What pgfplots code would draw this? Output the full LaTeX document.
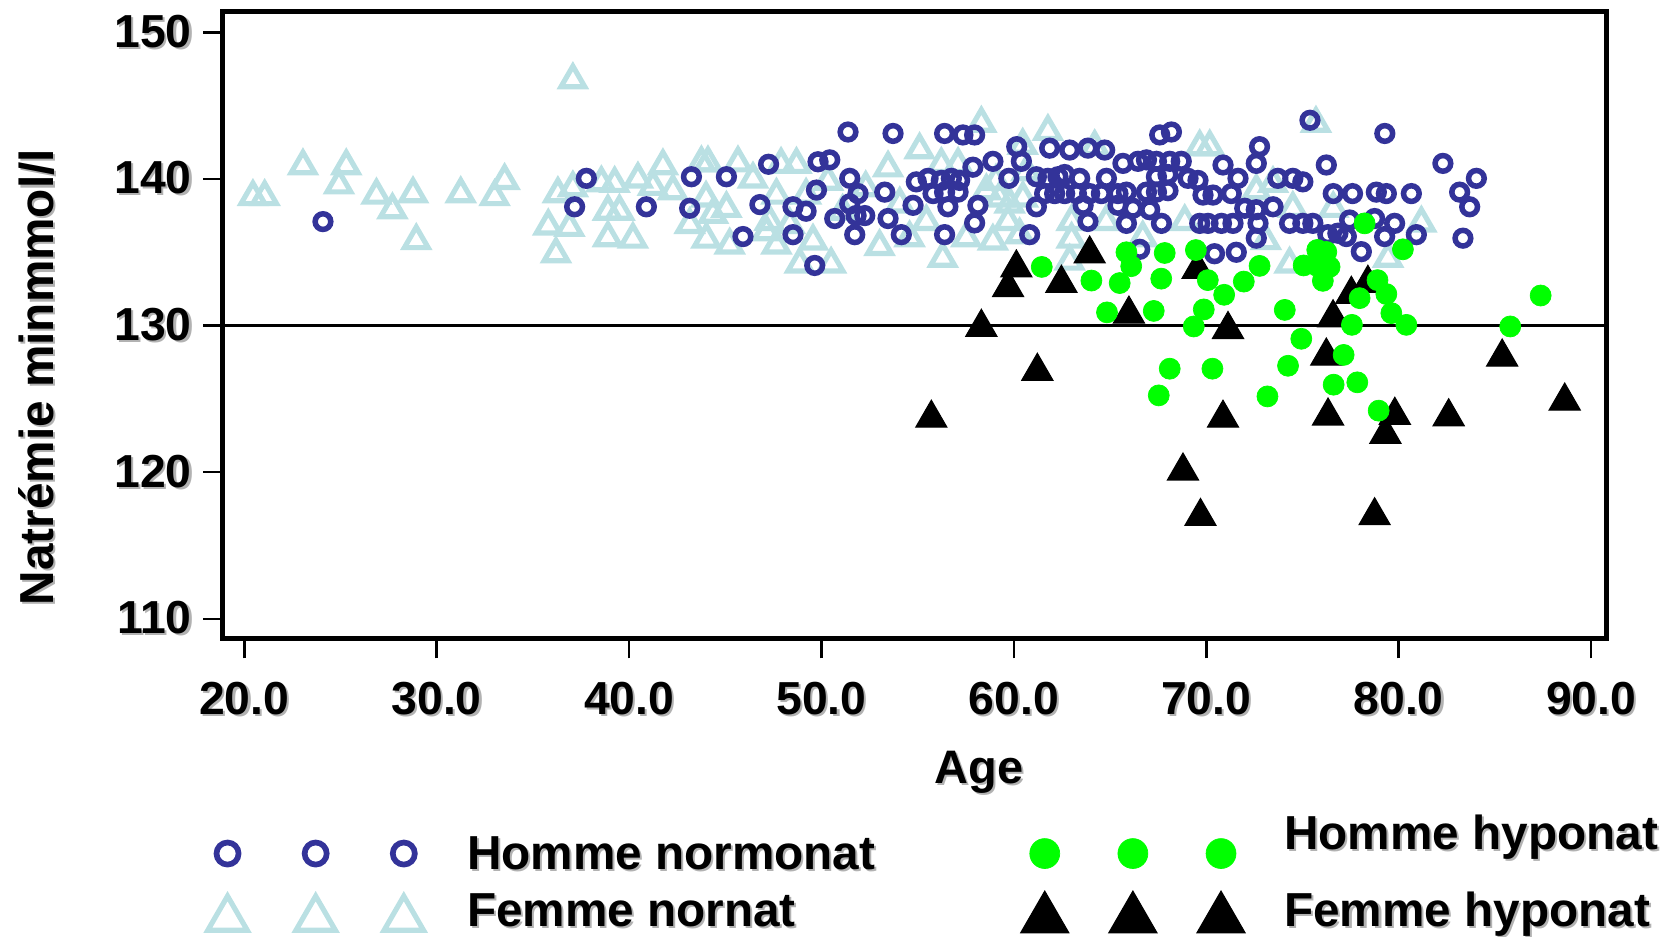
\documentclass[border=0pt]{standalone}
\usepackage{pgfplots}
\pgfplotsset{compat=1.18}
\usepackage{fontspec}
\setmainfont{Liberation Sans}
\definecolor{navyc}{RGB}{51,51,153}
\definecolor{lightc}{RGB}{186,224,227}
\definecolor{greenc}{RGB}{0,255,0}
\newcommand{\tfont}{\fontsize{13}{15}\selectfont\bfseries}
\newcommand{\shd}[1]{\makebox[0pt][l]{\hspace{0.6pt}\raisebox{-0.6pt}{\textcolor{black!30}{#1}}}#1}
\newcommand{\shdr}[1]{\makebox[0pt][l]{\hspace{-0.6pt}\raisebox{-0.6pt}{\textcolor{black!30}{#1}}}#1}
\begin{document}
\begin{tikzpicture}
\useasboundingbox (0,0) rectangle (470.4pt,263.1pt);
\begin{axis}[
  at={(62.55pt,83.7pt)}, anchor=south west,
  scale only axis, width=388.7pt, height=176.1pt,
  xmin=18.88, xmax=90.82, ymin=108.64, ymax=151.40,
  axis line style={line width=1.35pt},
  xtick={20,30,...,90}, ytick={110,120,...,150},
  xtick pos=bottom, ytick pos=left,
  tick align=outside, major tick length=5.5pt,
  tick style={line width=0.7pt, black},
  minor tick num=0,
  /pgf/number format/assume math mode=true,
  xticklabel={\shd{\pgfmathprintnumber{\tick}}},
  yticklabel={\shd{\pgfmathprintnumber{\tick}}},
  x tick label style={/pgf/number format/.cd, fixed, fixed zerofill, precision=1, /tikz/.cd, font=\tfont, inner sep=0pt, anchor=north, yshift=-6.5pt},
  y tick label style={font=\tfont, inner sep=0pt, anchor=east, xshift=-3pt},
  xlabel={\shd{Age}},
  xlabel style={at={(axis description cs:0.5465,-0.23)}, anchor=base, font=\fontsize{13.2}{15}\selectfont\bfseries, inner sep=0pt},
  ylabel={\shdr{Natrémie minmmol/l}},
  ylabel style={at={(axis description cs:-0.1223,0.4173)}, anchor=base, font=\fontsize{13.4}{15}\selectfont\bfseries, inner sep=0pt},
  legend columns=2, legend cell align=left,
  legend style={at={(axis description cs:-0.02225,-0.297)}, anchor=north west, draw=none, fill=none, inner sep=0pt, outer sep=0pt, row sep=0.4pt, column sep=0pt, font=\fontsize{13.4}{15}\selectfont\bfseries, nodes={inner sep=0pt, outer sep=0pt},
    /tikz/every odd column/.append style={column sep=7.75pt},
    /tikz/every even column/.append style={column sep=37.6pt}},
  legend image code/.code={\path[draw=none, fill=none] (-10pt,-8pt) rectangle (59.5pt,8pt); \draw[#1] plot coordinates {(0pt,0pt) (24.75pt,0pt) (49.5pt,0pt)};},
]
% reference line at 130
\addplot[black, line width=0.85pt, forget plot] coordinates {(18.88,130) (90.82,130)};

% Femme nornat
\addplot[only marks, mark=triangle, color=lightc, line width=1.45pt, mark size=3.85pt, mark options={line width=1.45pt, yshift=-1.3pt}, forget plot] coordinates {
(20.45,139.1) (21.06,139.1) (23.05,141.2) (25.3,141.2) (24.92,139.9) (26.87,139.2) (27.7,138.2) (28.77,139.3) (28.94,136.1) (31.25,139.3) (33.01,139.1) (33.53,140.2) (36.3,139.3) (35.8,137.1) (36.2,135.2)
(37.08,147.07) (37.08,139.7) (36.9,137.0) (38.56,140.04) (39.25,140.0) (38.9,138.1) (38.9,136.3) (40.2,136.2) (39.5,138.1) (40.46,140.3) (41.76,141.2) (41.24,139.8) (42.28,139.5) (43.76,141.4) (44.1,141.4) (44.0,139.0) (44.36,137.9) (45.06,138.3) (45.66,141.4) (46.44,140.3) (44.02,136.2) (45.23,135.8) (43.15,137.2) (47.14,136.7)
(47.9,141.3) (48.7,141.3) (47.66,139.2) (47.3,137.4) (47.66,135.8) (48.87,134.5) (50.5,134.5) (49.56,136.07) (50.34,140.15) (49.2,139.2) (52.3,139.7) (53.46,141.06) (53.02,135.7) (54.58,136.3) (55.1,142.3) (56.23,141.3) (57.1,141.3) (58.31,144.1) (56.3,134.9) (55.45,137.4) (57.53,136.3) (58.91,136.07) (59.26,139.0) (58.57,139.5) (59.7,137.4) (54.07,138.6) (51.1,138.1) (48.35,137.2)
(61.77,143.55) (60.46,142.6) (64.2,142.5) (69.66,142.5) (70.18,142.5) (59.78,138.6) (60.3,136.5) (63.0,137.4) (64.8,137.4) (66.7,136.3) (68.88,137.4) (62.9,134.7) (60.47,139.0) (63.0,136.2) (60.65,140.8) (59.07,140.15)
(75.7,144.1) (73.47,140.0) (72.6,139.5) (74.5,138.3) (76.6,138.3) (81.18,137.3) (74.33,134.5) (79.45,134.9) (73.1,136.1)
};

% Homme normonat
\addplot[only marks, mark=o, color=navyc, line width=1.55pt, mark size=2.2pt, mark options={line width=1.55pt}, forget plot] coordinates {
(24.09,137.09)
(37.78,140.04) (37.17,138.1) (40.9,138.1) (43.24,140.15) (43.15,138.0) (45.06,140.15) (46.8,138.25) (45.92,136.07) (47.25,141.0)
(48.52,138.1) (49.2,137.8) (48.52,136.2) (49.65,134.1) (49.82,141.17) (50.43,141.3) (49.74,139.24) (50.69,137.3) (51.38,143.2) (51.47,140.04) (51.9,139.0) (51.47,138.3) (51.8,137.5) (52.25,137.5) (51.73,136.2) (53.46,137.3) (53.29,139.1) (54.15,136.2) (53.72,143.1) (54.76,138.2) (54.93,139.8) (55.54,140.04) (55.8,139.0) (56.23,139.9) (56.75,140.04) (57.18,139.9) (56.4,139.1) (57.1,139.1) (56.57,138.1) (56.4,143.1) (57.35,143.0) (57.96,143.0) (57.87,140.8) (58.91,141.2) (58.13,138.2) (57.96,137.0) (56.4,136.2) (59.74,140.04) (60.15,142.2)
(60.39,141.2) (61.86,142.1) (62.9,141.97) (63.85,142.1) (64.72,141.97) (61.17,140.15) (61.77,140.04) (62.29,140.15) (62.64,140.3) (63.42,140.04) (64.81,140.04) (61.6,139.0) (62.12,139.0) (62.64,139.0) (63.25,139.0) (63.94,139.0) (64.55,139.0) (65.41,139.0) (65.85,139.1) (61.17,138.1) (63.6,138.2) (65.41,138.2) (66.19,138.0) (67.06,137.9) (63.85,137.1) (65.85,136.97) (67.67,136.97) (60.82,136.2) (65.67,141.06) (66.45,141.2) (66.89,141.3) (67.41,141.2) (68.1,141.2) (68.7,141.2) (67.58,143.0) (68.19,143.2) (66.89,139.1) (67.41,139.1) (68.01,139.2) (67.41,140.15) (68.01,140.3) (69.05,140.04) (69.57,139.9) (69.83,138.9) (70.35,138.9) (71.3,139.0) (70.87,140.95) (71.65,140.04) (69.66,136.97) (70.09,136.97) (70.79,136.97) (71.39,136.97) (72.0,138.0) (66.54,135.2) (70.43,134.9) (71.56,135.0)
(75.39,144.0) (79.28,143.1) (72.77,142.2) (72.6,141.06) (76.24,140.95) (73.72,140.04) (74.5,140.04) (75.02,139.8) (76.6,139.0) (77.6,139.0) (78.84,139.1) (79.36,139.0) (80.66,139.0) (82.3,141.06) (84.04,140.04) (83.17,139.1) (83.69,138.1) (83.34,135.96) (73.47,138.1) (72.6,137.9) (72.69,136.97) (72.6,135.96) (74.33,136.97) (75.02,136.97) (75.54,136.97) (76.32,136.2) (76.84,136.3) (77.28,136.07) (77.45,137.2) (78.75,137.3) (79.79,136.97) (79.27,136.07) (80.92,136.2) (78.06,135.04)
};

% Femme hyponat
\addplot[only marks, mark=triangle*, color=black, line width=0.3pt, mark size=5.05pt, mark options={fill=black, draw=black, line width=0.3pt, yshift=-1.3pt}, forget plot] coordinates {
(60.13,134.25) (59.7,132.9) (62.47,133.2) (63.94,135.2) (58.31,130.2) (61.22,127.2) (55.71,124.0) (65.98,131.1) (69.55,134.15) (71.13,130.05) (70.87,124.0) (68.79,120.4) (69.7,117.3) (78.4,133.2) (77.54,132.45) (76.59,130.85) (76.24,128.24) (76.33,124.15) (79.8,124.2) (79.31,122.9) (82.6,124.1) (85.38,128.17) (88.63,125.17) (78.75,117.35)
};

% Homme hyponat
\addplot[only marks, mark=*, color=greenc, line width=0.2pt, mark size=2.95pt, mark options={fill=greenc, draw=greenc}, forget plot] coordinates {
(61.45,134.0) (64.03,133.07) (65.5,132.9) (65.85,135.0) (66.1,134.05) (67.84,134.95) (67.66,133.2) (69.46,135.15) (70.08,133.1) (70.93,132.1) (71.95,133.0) (64.84,130.9) (67.27,131.0) (69.87,131.1) (69.35,129.94) (68.1,127.06) (70.32,127.06) (67.53,125.24) (72.77,134.07) (75.77,135.16) (76.24,135.02) (75.06,134.1) (75.72,134.1) (76.41,134.0) (76.06,133.05) (78.23,136.97) (80.22,135.2) (78.9,133.1) (79.36,132.15) (77.97,131.87) (79.62,130.85) (80.4,130.05) (77.57,130.05) (74.08,131.07) (74.94,129.1) (77.14,128.0) (74.25,127.26) (76.62,125.97) (77.85,126.13) (73.18,125.17) (78.96,124.2) (85.8,129.94) (87.38,132.05)
};

\addlegendimage{only marks, mark=o, color=navyc, line width=1.6pt, mark size=3.1pt, mark options={line width=1.6pt}}
\addlegendentry{\raisebox{-0.3pt}[9.6pt][0pt]{\shd{Homme normonat}}}
\addlegendimage{only marks, mark=*, color=greenc, line width=0.2pt, mark size=4.2pt, mark options={fill=greenc, draw=greenc}}
\addlegendentry{\raisebox{5.2pt}[9.6pt][0pt]{\shd{Homme hyponat}}}
\addlegendimage{only marks, mark=triangle, color=lightc, line width=1.45pt, mark size=6.4pt, mark options={line width=1.45pt, yshift=-1.95pt}}
\addlegendentry{\raisebox{0pt}[9.6pt][0pt]{\shd{Femme nornat}}}
\addlegendimage{only marks, mark=triangle*, color=black, line width=0.3pt, mark size=7.8pt, mark options={fill=black, draw=black, line width=0.3pt, yshift=-1.95pt}}
\addlegendentry{\raisebox{0pt}[9.6pt][0pt]{\shd{Femme hyponat}}}
\end{axis}
\end{tikzpicture}
\end{document}
